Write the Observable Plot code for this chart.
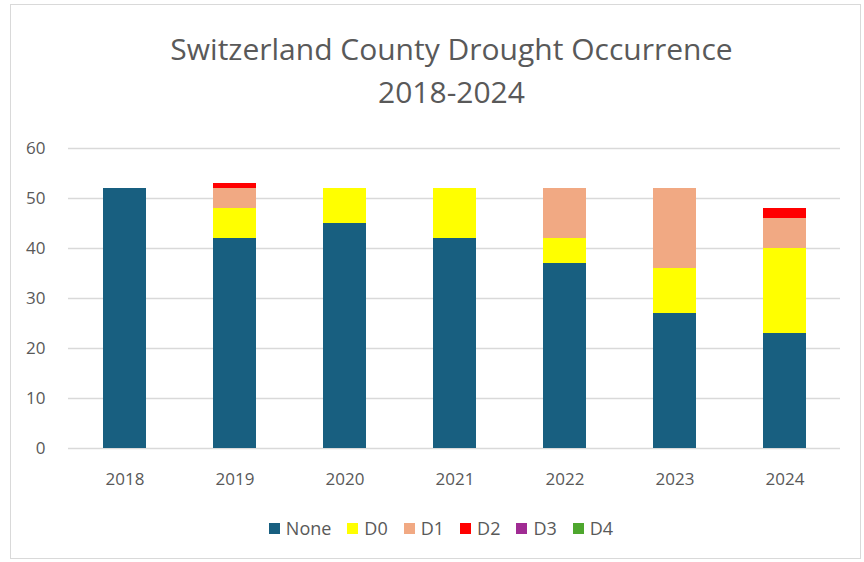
<!DOCTYPE html>
<html><head><meta charset="utf-8">
<script src="https://cdn.jsdelivr.net/npm/d3@7"></script>
<script src="https://cdn.jsdelivr.net/npm/@observablehq/plot@0.6"></script>
<style>
body{margin:0;background:#fff;font-family:"Open Sans","Noto Sans",sans-serif;}
#wrap{position:relative;width:864px;height:562px;overflow:hidden;}
#frame{position:absolute;left:10px;top:4px;width:851px;height:555px;border:1px solid #d9d9d9;box-sizing:border-box;}
#title{position:absolute;left:26px;width:851px;top:27px;text-align:center;color:#595959;font-size:30px;line-height:43px;font-family:"Open Sans",sans-serif;}
#chart{position:absolute;left:-2px;top:130px;}
#legend{position:absolute;top:516px;left:9px;width:864px;display:flex;justify-content:center;gap:0;color:#595959;font-size:18px;}
.it{display:flex;align-items:center;margin:0 8px;}
.sw{width:11px;height:11px;margin-right:6px;}
</style></head><body>
<div id="wrap"><div id="frame"></div>
<div id="title">Switzerland County Drought Occurrence<br>2018-2024</div>
<div id="chart"></div>
<div id="legend"></div></div>
<script>
const years = ["2018","2019","2020","2021","2022","2023","2024"];
const series = ["None","D0","D1","D2","D3","D4"];
const colors = ["#185F80","#FFFF00","#F1A983","#FF0000","#A02B93","#4EA72E"];
const noneV = [52,42,45,42,37,27,23];
const d0V   = [0,6,7,10,5,9,17];
const d1V   = [0,4,0,0,10,16,6];
const d2V   = [0,1,0,0,0,0,2];
const d3V   = [0,0,0,0,0,0,0];
const d4V   = [0,0,0,0,0,0,0];
const yTicks = [0,10,20,30,40,50,60];

const vals = [noneV,d0V,d1V,d2V,d3V,d4V];
const data = [];
years.forEach((y,i)=>series.forEach((s,j)=>data.push({year:y,series:s,value:vals[j][i]})));

const plot = Plot.plot({
  width:866, height:370,
  marginLeft:70, marginRight:24, marginTop:18, marginBottom:52,
  style:{fontFamily:"Open Sans, sans-serif", fontSize:"17px", color:"#595959"},
  x:{domain:years, paddingInner:0.61, paddingOuter:0.305, label:null},
  y:{domain:[0,60], label:null},
  color:{domain:series, range:colors},
  marks:[
    Plot.gridY(yTicks,{stroke:"#d9d9d9", strokeOpacity:1, strokeWidth:1.4}),
    Plot.axisY(yTicks,{tickSize:0, tickPadding:23, label:null, fill:"#595959"}),
    Plot.axisX({tickSize:0, tickPadding:24, label:null, fill:"#595959"}),
    Plot.barY(data,{x:"year", y:"value", fill:"series", order:series})
  ]
});
document.getElementById("chart").appendChild(plot);

const leg = document.getElementById("legend");
series.forEach((s,i)=>{
  const d=document.createElement("div");d.className="it";
  d.innerHTML=`<span class="sw" style="background:${colors[i]}"></span><span>${s}</span>`;
  leg.appendChild(d);
});
</script></body></html>
